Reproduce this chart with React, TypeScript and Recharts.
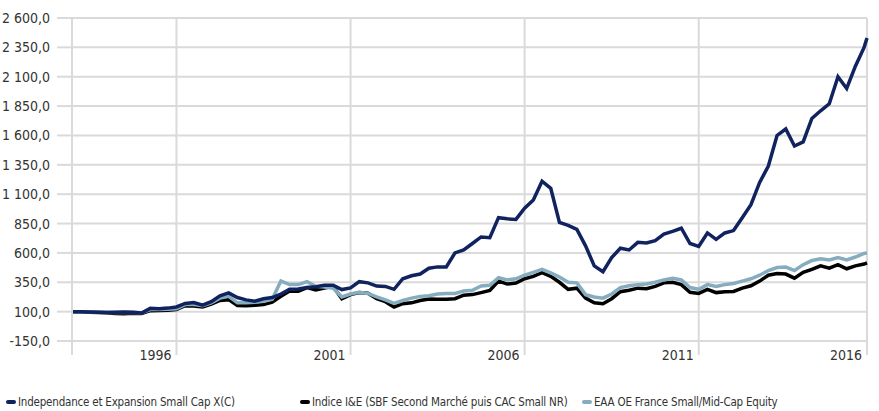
import { LineChart, Line, XAxis, YAxis, CartesianGrid } from 'recharts';

// quarterly points, counted in months from the first value
const MONTHS_PER_POINT = 3;
const LAST_MONTH = 274;

// tick positions (months) and their year labels
const xTicks = [0, 36, 96, 156, 216, 274];
const xTickLabels = ['', '1996', '2001', '2006', '2011', '2016'];
const yTicks = [-150, 100, 350, 600, 850, 1100, 1350, 1600, 1850, 2100, 2350, 2600];

// Independance et Expansion Small Cap X(C)
const fundValues = [
  100, 100, 97, 95, 93, 95, 97, 95, 88, 128, 125, 130, 140, 170, 178, 155,
  185, 235, 260, 220, 200, 188, 210, 220, 250, 290, 293, 305, 312, 325, 325, 288,
  302, 355, 345, 318, 315, 290, 380, 405, 420, 470, 481, 481, 600, 625, 680, 736,
  730, 900, 890, 885, 980, 1050, 1210, 1150, 860, 835, 800, 660, 490, 440, 560, 640,
  625, 690, 685, 705, 760, 784, 810, 680, 655, 770, 715, 770, 790, 900, 1011, 1200,
  1340, 1600, 1655, 1510, 1545, 1745, 1810, 1870, 2100, 2000, 2190, 2350, 2430,
];

// Indice I&E (SBF Second Marché puis CAC Small NR)
const indexValues = [
  100, 98, 95, 92, 90, 85, 83, 86, 85, 108, 110, 112, 118, 150, 148, 140,
  165, 195, 202, 152, 150, 155, 160, 180, 230, 275, 273, 305, 285, 300, 315, 210,
  245, 262, 256, 210, 185, 140, 168, 175, 195, 208, 205, 205, 210, 240, 245, 262,
  280, 360, 335, 344, 380, 400, 432, 400, 350, 290, 300, 215, 175, 168, 210, 270,
  282, 300, 295, 315, 345, 350, 330, 265, 255, 290, 262, 270, 272, 300, 320, 360,
  410, 424, 420, 385, 435, 460, 490, 470, 500, 465, 490, 505, 515,
];

// EAA OE France Small/Mid-Cap Equity
const categoryValues = [
  100, 100, 98, 96, 94, 92, 92, 92, 90, 118, 118, 120, 125, 160, 160, 150,
  175, 215, 230, 175, 175, 180, 188, 205, 360, 330, 330, 355, 315, 310, 300, 225,
  250, 265, 255, 225, 200, 170, 195, 215, 230, 235, 250, 255, 255, 275, 282, 318,
  325, 390, 370, 380, 410, 435, 460, 430, 395, 350, 345, 245, 225, 215, 250, 305,
  320, 330, 335, 350, 370, 385, 370, 305, 290, 330, 315, 330, 340, 360, 380, 410,
  450, 475, 480, 450, 500, 535, 550, 540, 560, 540, 565, 595, 600,
];

const series = [
  { key: 'index', name: 'Indice I&E (SBF Second Marché puis CAC Small NR)', color: '#000000' },
  { key: 'category', name: 'EAA OE France Small/Mid-Cap Equity', color: '#86adbf' },
  { key: 'fund', name: 'Independance et Expansion Small Cap X(C)', color: '#11235f' },
];
const legendOrder = ['fund', 'index', 'category'];
const legendLeft = [6, 300, 582];

const data = fundValues.map((v, i) => ({
  month: i === fundValues.length - 1 ? LAST_MONTH : i * MONTHS_PER_POINT,
  fund: v,
  index: indexValues[i],
  category: categoryValues[i],
}));

const FONT = "'Liberation Sans Narrow', 'DejaVu Sans Condensed', 'Arial Narrow', sans-serif";
const GRID = '#dadada';

const formatY = (v: number) => {
  const [int, dec] = Math.abs(v).toFixed(1).split('.');
  const grouped = int.replace(/\B(?=(\d{3})+(?!\d))/g, ' ');
  return `${v < 0 ? '-' : ''}${grouped},${dec}`;
};

const XTick = ({ x, y, payload }: any) => {
  const idx = xTicks.indexOf(payload.value);
  return (
    <text x={x - 5} y={y} dy="0.35em" textAnchor="end" fill="#333" fontSize={14} fontFamily={FONT}>
      {xTickLabels[idx]}
    </text>
  );
};

export default function App() {
  return (
    <div style={{ position: 'absolute', left: 0, top: 0, width: 879, height: 411, background: '#fff' }}>
      <LineChart width={879} height={411} data={data} margin={{ top: 18, right: 12, left: 0, bottom: 0 }}>
        <CartesianGrid stroke={GRID} strokeWidth={2} />
        <XAxis
          dataKey="month"
          type="number"
          domain={[0, LAST_MONTH]}
          ticks={xTicks}
          interval={0}
          height={70}
          tickSize={14}
          tickMargin={0}
          axisLine={{ stroke: GRID, strokeWidth: 2 }}
          tickLine={{ stroke: GRID, strokeWidth: 2 }}
          tick={<XTick />}
        />
        <YAxis
          type="number"
          domain={[-150, 2600]}
          ticks={yTicks}
          interval={0}
          width={72}
          tickSize={15}
          tickMargin={7}
          axisLine={{ stroke: GRID, strokeWidth: 2 }}
          tickLine={{ stroke: GRID, strokeWidth: 2 }}
          tickFormatter={formatY}
          tick={{ fill: '#333', fontSize: 14, fontFamily: FONT }}
        />
        {series.map((s) => (
          <Line
            key={s.key}
            dataKey={s.key}
            name={s.name}
            stroke={s.color}
            strokeWidth={3.5}
            dot={false}
            type="linear"
            isAnimationActive={false}
          />
        ))}
      </LineChart>
      {legendOrder.map((k, i) => {
        const s = series.find((x) => x.key === k)!;
        return (
          <div
            key={k}
            style={{
              position: 'absolute',
              left: legendLeft[i],
              top: 395,
              display: 'flex',
              alignItems: 'center',
              gap: 2,
              fontFamily: FONT,
              fontSize: 11.5,
              color: '#333',
              whiteSpace: 'nowrap',
              letterSpacing: -0.2,
            }}
          >
            <span style={{ width: 10, height: 4, borderRadius: 2, background: s.color, display: 'inline-block' }} />
            <span>{s.name}</span>
          </div>
        );
      })}
    </div>
  );
}
